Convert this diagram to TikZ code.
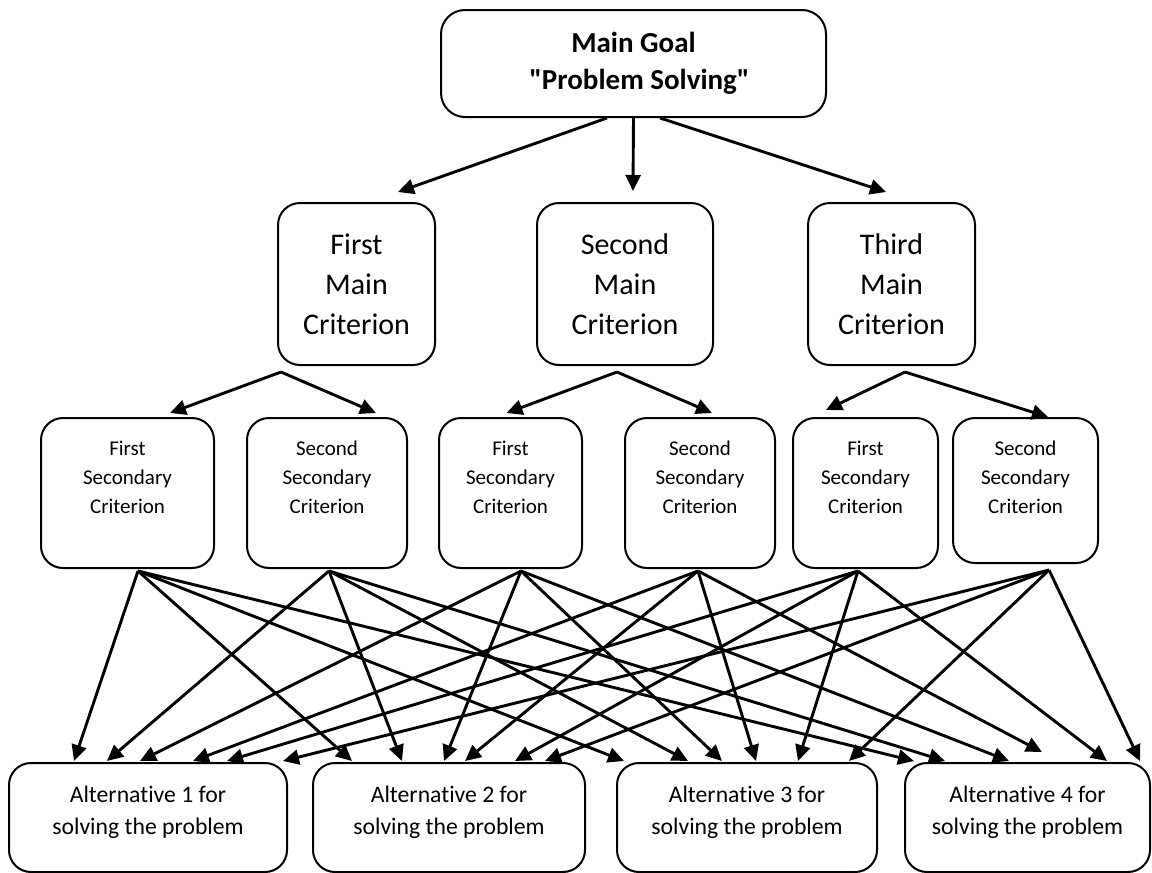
\documentclass[tikz,border=0pt]{standalone}
\usepackage{fontspec}
\setmainfont{Carlito}[Ligatures=NoCommon]
\usetikzlibrary{arrows.meta}
\definecolor{ahpInk}{HTML}{000000}
\tikzset{
  every picture/.style={text=ahpInk},
  ahp box/.style={draw=ahpInk, line width=1pt, fill=white, align=center,
    inner sep=0pt, rounded corners=11pt},
  ahp goal/.style={ahp box, rounded corners=12pt, minimum width=192.5pt,
    minimum height=53.5pt, font=\bfseries\fontsize{14.5}{18.5}\selectfont},
  ahp main/.style={ahp box, minimum height=81pt,
    font=\fontsize{15}{20}\selectfont},
  ahp sub/.style={ahp box, minimum height=75pt, text depth=16pt,
    font=\fontsize{10.5}{14.5}\selectfont},
  ahp alt/.style={ahp box, minimum height=54.5pt, text depth=7pt,
    font=\fontsize{11.85}{16}\selectfont},
  ahp arrow/.style={-{Triangle[length=8pt,width=7.5pt]},
    draw=ahpInk, line width=1.45pt}
}
\begin{document}
\begin{tikzpicture}[x=0.5pt,y=-0.5pt]
  \useasboundingbox (0,0) rectangle (1152,873);
  \node[ahp goal] (goal) at (633.5,63.5) {Main Goal\\\hspace*{6pt}\textquotedbl Problem Solving\textquotedbl};
  \node[ahp main, minimum width=78.5pt] (m1) at (356.5,284) {First\\Main\\Criterion};
  \node[ahp main, minimum width=88pt] (m2) at (625,284) {Second\\Main\\Criterion};
  \node[ahp main, minimum width=83.5pt] (m3) at (891.5,284) {Third\\Main\\Criterion};
  \node[ahp sub, minimum width=86.5pt] (c1) at (127.5,493) {First\\Secondary\\Criterion};
  \node[ahp sub, minimum width=80pt] (c2) at (327,493) {Second\\Secondary\\Criterion};
  \node[ahp sub, minimum width=71.5pt] (c3) at (510.5,493) {First\\Secondary\\Criterion};
  \node[ahp sub, minimum width=75pt] (c4) at (700,493) {Second\\Secondary\\Criterion};
  \node[ahp sub, minimum width=72.5pt] (c5) at (865.5,493) {First\\Secondary\\Criterion};
  \node[ahp sub, minimum width=72.5pt, minimum height=72.5pt, text depth=13.5pt] (c6) at (1025.5,490.5) {Second\\Secondary\\Criterion};
  \node[ahp alt, minimum width=139pt] (a1) at (148,817.5) {Alternative 1 for\\solving the problem};
  \node[ahp alt, minimum width=136pt] (a2) at (449,817.5) {Alternative 2 for\\solving the problem};
  \node[ahp alt, minimum width=130pt] (a3) at (747,817.5) {Alternative 3 for\\solving the problem};
  \node[ahp alt, minimum width=122.5pt] (a4) at (1027.5,817.5) {Alternative 4 for\\solving the problem};

  \draw[ahp arrow] ([shift={(-26.5,0)}]goal.south) -- ([shift={(41.5,-10)}]m1.north);
  \draw[ahp arrow] (goal.south) -- ([shift={(8,-11)}]m2.north);
  \draw[ahp arrow] ([shift={(26.5,0)}]goal.south) -- ([shift={(-5.5,-10)}]m3.north);

  \coordinate (p1) at ([shift={(-75.5,6)}]m1.south);
  \coordinate (p2) at ([shift={(-8,6)}]m2.south);
  \coordinate (p3) at ([shift={(13.5,6)}]m3.south);
  \draw[ahp arrow] (p1) -- ([shift={(42.5,-4)}]c1.north);
  \draw[ahp arrow] (p1) -- ([shift={(49,-4)}]c2.north);
  \draw[ahp arrow] (p2) -- ([shift={(-4,-4)}]c3.north);
  \draw[ahp arrow] (p2) -- ([shift={(12,-4)}]c4.north);
  \draw[ahp arrow] (p3) -- ([shift={(-39.5,-7)}]c5.north);
  \draw[ahp arrow] (p3) -- ([shift={(22.5,0)}]c6.north);

  \coordinate (s1) at ([shift={(10.5,2)}]c1.south);
  \coordinate (s2) at ([shift={(2,2)}]c2.south);
  \coordinate (s3) at ([shift={(10.5,2)}]c3.south);
  \coordinate (s4) at ([shift={(-2,2)}]c4.south);
  \coordinate (s5) at ([shift={(-7.5,2)}]c5.south);
  \coordinate (s6) at ([shift={(23.5,6)}]c6.south);
  \foreach \s/\t/\dx/\dy in {1/1/-74/-1, 1/2/-97/-1, 1/3/-123/-1, 1/4/-113.5/-1,
      2/1/-41/-1, 2/2/-47/-1, 2/3/-59/-1, 2/4/-82.5/-1,
      3/1/-8/-1, 3/2/-5/-1, 3/3/-25/-1, 3/4/-18.5/-1,
      4/1/45/-1, 4/2/16/-1, 4/3/9/-1, 4/4/14.5/-10,
      5/1/79/-1, 5/2/66/-1, 5/3/51/-1, 5/4/79.5/-1,
      6/1/135/-1, 6/2/96/-1, 6/3/102/-1, 6/4/112.5/-1}
    \draw[ahp arrow] (s\s) -- ([shift={(\dx,\dy)}]a\t.north);
\end{tikzpicture}
\end{document}
